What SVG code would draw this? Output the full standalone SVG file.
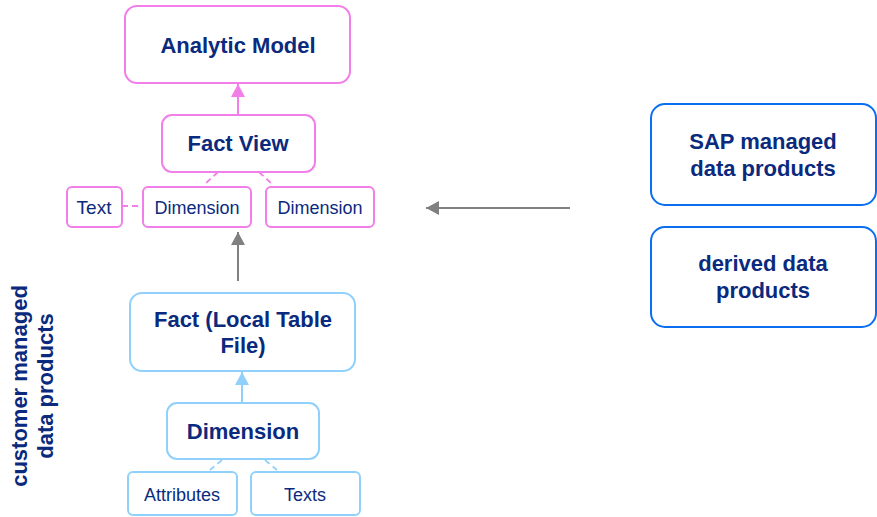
<svg xmlns="http://www.w3.org/2000/svg" width="877" height="517" viewBox="0 0 877 517">
<style>
.t{font-family:"Liberation Sans",Arial,sans-serif;fill:#0a2a7e;text-anchor:middle}
.b{font-weight:bold;font-size:22px}
.r{font-size:18px}
.pink{fill:#fff;stroke:#f27ee9;stroke-width:2}
.lb{fill:#fff;stroke:#8fd1fb;stroke-width:2}
.bl{fill:#fff;stroke:#0a6ef0;stroke-width:2}
.dp{stroke:#f27ee9;stroke-width:1.8;stroke-dasharray:6 4;fill:none}
.db{stroke:#8fd1fb;stroke-width:1.8;stroke-dasharray:6 4;fill:none}
</style>
<defs>
<marker id="ap" markerUnits="userSpaceOnUse" markerWidth="14" markerHeight="14" refX="13" refY="7" orient="auto"><path d="M0,0 L13,7 L0,14 Z" fill="#f27ee9"/></marker>
<marker id="ag" markerUnits="userSpaceOnUse" markerWidth="14" markerHeight="14" refX="13" refY="7" orient="auto"><path d="M0,0 L13,7 L0,14 Z" fill="#808080"/></marker>
<marker id="ab" markerUnits="userSpaceOnUse" markerWidth="14" markerHeight="14" refX="13" refY="7" orient="auto"><path d="M0,0 L13,7 L0,14 Z" fill="#8fd1fb"/></marker>
</defs>
<g id="connectors">
<line x1="238" y1="115" x2="238" y2="84" stroke="#f27ee9" stroke-width="2" marker-end="url(#ap)"/>
<line x1="218" y1="172" x2="206" y2="183" class="dp"/>
<line x1="259" y1="172" x2="271" y2="183" class="dp"/>
<line x1="122" y1="206" x2="143" y2="206" class="dp"/>
<line x1="238" y1="281" x2="238" y2="232" stroke="#808080" stroke-width="2" marker-end="url(#ag)"/>
<line x1="242" y1="403" x2="242" y2="372" stroke="#8fd1fb" stroke-width="2" marker-end="url(#ab)"/>
<line x1="222" y1="460" x2="210" y2="470" class="db"/>
<line x1="265" y1="460" x2="277" y2="470" class="db"/>
<line x1="570" y1="208" x2="426" y2="208" stroke="#808080" stroke-width="2" marker-end="url(#ag)"/>
</g>
<g id="analytic-model"><rect x="125" y="6" width="225" height="77" rx="12" class="pink"/><text x="238" y="53" class="t b">Analytic Model</text></g>
<g id="fact-view"><rect x="162" y="115" width="153" height="57" rx="10" class="pink"/><text x="238" y="151" class="t b">Fact View</text></g>
<g id="text-node"><rect x="67" y="187" width="55" height="40" rx="5" class="pink"/><text x="94" y="214" class="t" font-size="19">Text</text></g>
<g id="dimension-1"><rect x="143" y="187" width="108" height="40" rx="5" class="pink"/><text x="197" y="214" class="t r">Dimension</text></g>
<g id="dimension-2"><rect x="266" y="187" width="108" height="40" rx="5" class="pink"/><text x="320" y="214" class="t r">Dimension</text></g>
<g id="fact-local"><rect x="130" y="293" width="225" height="78" rx="12" class="lb"/><text x="243" y="327" class="t b">Fact (Local Table</text><text x="243" y="353" class="t b">File)</text></g>
<g id="dimension-main"><rect x="167" y="403" width="152" height="56" rx="10" class="lb"/><text x="243" y="439" class="t b">Dimension</text></g>
<g id="attributes"><rect x="128" y="472" width="109" height="43" rx="5" class="lb"/><text x="182" y="501" class="t r">Attributes</text></g>
<g id="texts"><rect x="251" y="472" width="109" height="43" rx="5" class="lb"/><text x="305" y="501" class="t r">Texts</text></g>
<g id="sap-managed"><rect x="651" y="104" width="225" height="101" rx="14" class="bl"/><text x="763" y="149" class="t b">SAP managed</text><text x="763" y="176" class="t b">data products</text></g>
<g id="derived"><rect x="651" y="227" width="225" height="100" rx="14" class="bl"/><text x="763" y="271" class="t b">derived data</text><text x="763" y="298" class="t b">products</text></g>
<g id="side-label"><text transform="translate(27,386) rotate(-90)" class="t b">customer managed</text><text transform="translate(53,386) rotate(-90)" class="t b">data products</text></g>
</svg>
